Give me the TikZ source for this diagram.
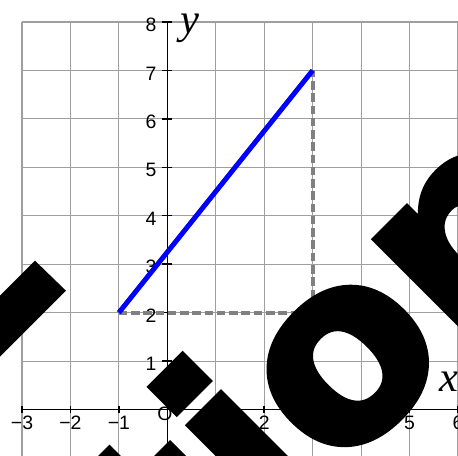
\documentclass[tikz,border=0pt]{standalone}
\usepackage{fontspec}
\setmainfont{Liberation Sans}
\newfontfamily\labfont{Liberation Serif}
\newfontfamily\wmfont[FakeBold=2.5]{DejaVu Sans Bold}
\begin{document}
\begin{tikzpicture}[x=1cm,y=1cm,
  gridline/.style={draw=gray!75, line width=0.6pt},
  axisline/.style={draw=black, line width=0.85pt},
  tickmark/.style={draw=black, line width=0.85pt},
  ticklab/.style={font=\fontsize{11.4}{12}\selectfont, inner sep=0pt},
  axlab/.style={font=\fontsize{25}{25}\selectfont\labfont\itshape, inner sep=0pt, anchor=base west},
  guide/.style={draw=gray, line width=2.2pt, dash pattern=on 5pt off 2.2pt},
  segline/.style={draw=blue, line width=2.9pt},
  wmark/.style={font=\fontsize{150}{150}\selectfont\wmfont, text=black, inner sep=0pt, rotate=45, anchor=base west}
]
\useasboundingbox (-3.454,-0.948) rectangle (6.0,8.454);
\clip (-3.454,-0.948) rectangle (6.0,8.454);
% grid
\draw[gridline] (-3,-1) grid (6,8);
% axes
\draw[axisline] (-3,0) -- (6.2,0);
\draw[axisline] (0,-1.2) -- (0,8);
\foreach \i in {-3,...,6} \draw[tickmark] (\i,-0.07) -- (\i,0.07);
\foreach \j in {-1,...,8} \draw[tickmark] (-0.1,\j) -- (0.1,\j);
% tick labels
\foreach \i/\t in {-3/−3,-2/−2,-1/−1,1/1,2/2,3/3,4/4,5/5,6/6}
  \node[ticklab, anchor=north] (xl\i) at (\i,-0.12) {\t};
\foreach \j in {1,...,8}
  \node[ticklab, anchor=east] (yl\j) at (-0.22,\j-0.06) {\j};
\node[ticklab] (orig) at (-0.05,-0.08) {O};
% axis labels
\node[axlab] (ylab) at (0.26,7.77) {y};
\node[axlab] (xlab) at (5.62,0.37) {x};
% points
\coordinate (A) at (-1,2);
\coordinate (B) at (3,7);
\coordinate (C) at (3,2);
\draw[guide] (A) -- (C) -- (B);
\draw[segline] (A) -- (B);
% watermark
\node[wmark] (wm) at (0.395,-4.464) {tion};
\fill[black] (-2.732,3.073) -- (-2.093,2.454) -- (-3.866,0.681) -- (-4.506,1.299) -- cycle;
\end{tikzpicture}
\end{document}
